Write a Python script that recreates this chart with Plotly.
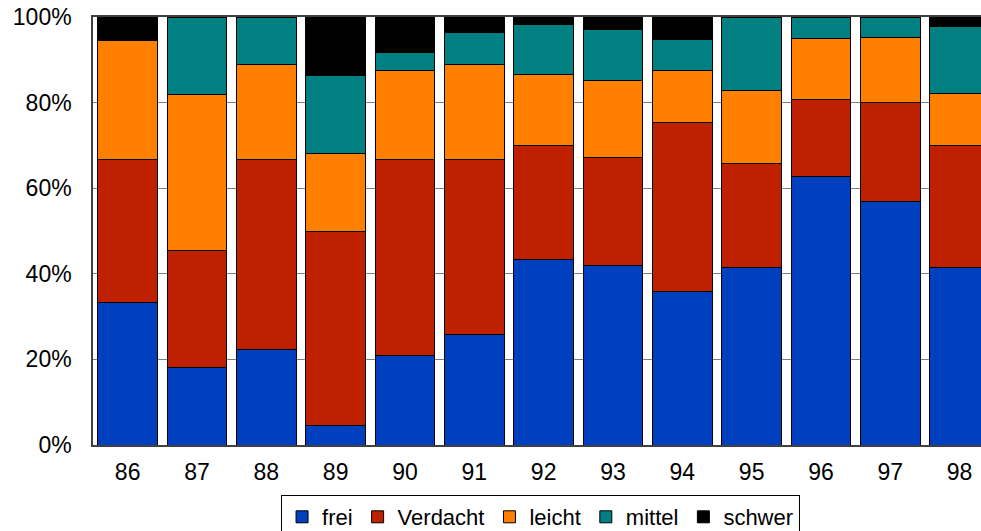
import plotly.graph_objects as go

# Jahrgänge (x-Kategorien)
years = ["86", "87", "88", "89", "90", "91", "92", "93", "94", "95", "96", "97", "98"]

# Anteile je Befundklasse in Prozent
frei = [33.3, 18.2, 22.2, 4.5, 20.8, 25.9, 43.3, 41.9, 35.8, 41.5, 62.8, 56.9, 41.5]
verdacht = [33.3, 27.3, 44.4, 45.5, 45.8, 40.7, 26.7, 25.3, 39.6, 24.4, 18.0, 23.2, 28.5]
leicht = [27.8, 36.4, 22.2, 18.2, 20.8, 22.2, 16.7, 17.9, 12.2, 17.1, 14.2, 15.0, 12.2]
mittel = [0.0, 18.2, 11.1, 18.2, 4.2, 7.4, 11.7, 12.0, 7.2, 17.1, 5.0, 4.9, 15.5]
schwer = [5.6, 0.0, 0.0, 13.6, 8.3, 3.7, 1.7, 2.9, 5.2, 0.0, 0.0, 0.0, 2.3]

# Achsenbeschriftung der Prozentskala
y_ticks = [0, 20, 40, 60, 80, 100]
y_labels = ["0%", "20%", "40%", "60%", "80%", "100%"]

series = [
    ("frei", frei, "#0040C0"),
    ("Verdacht", verdacht, "#BE2000"),
    ("leicht", leicht, "#FF8000"),
    ("mittel", mittel, "#008080"),
    ("schwer", schwer, "#000000"),
]

FONT = "Liberation Sans, Arial, sans-serif"

fig = go.Figure()
for name, vals, color in series:
    fig.add_trace(go.Bar(
        x=years, y=vals, name=name,
        marker=dict(color=color, line=dict(color="#000000", width=1)),
    ))

W, H = 981, 531
ml, mt, mb = 93, 17, 86
plot_w = W - ml
plot_h = H - mt - mb
cat_px = 69.33

fig.update_layout(
    width=W, height=H,
    barmode="stack", barnorm="percent", bargap=0.143,
    margin=dict(l=ml, r=0, t=mt, b=mb, pad=0, autoexpand=False),
    paper_bgcolor="white", plot_bgcolor="white",
    font=dict(family=FONT, size=23, color="#000000"),
    xaxis=dict(
        type="category", automargin=False,
        range=[-0.5, -0.5 + plot_w / cat_px],
        showline=True, linecolor="#404040", linewidth=1.5, mirror=True,
        showgrid=False, ticks="", ticklabelstandoff=6,
        tickfont=dict(size=23),
    ),
    yaxis=dict(
        automargin=False,
        range=[0, 100], tickmode="array", tickvals=y_ticks, ticktext=y_labels,
        showline=True, linecolor="#404040", linewidth=1.5, mirror=True,
        showgrid=True, gridcolor="#808080", gridwidth=1,
        zeroline=False, ticks="", ticklabelstandoff=15,
        tickfont=dict(size=23),
    ),
    legend=dict(
        orientation="h", traceorder="normal",
        x=0.504, xanchor="center", y=-(495 - (H - mb)) / plot_h, yanchor="top",
        bordercolor="#000000", borderwidth=1, bgcolor="white",
        font=dict(size=22), itemwidth=30, tracegroupgap=0,
    ),
    showlegend=True,
)

fig.write_html("out.html")
